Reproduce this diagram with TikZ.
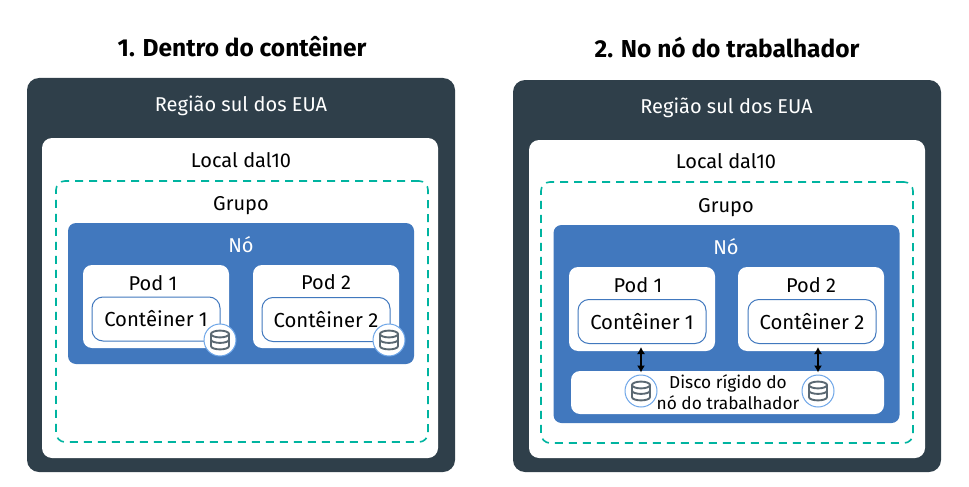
\documentclass[tikz,border=0pt]{standalone}
\usepackage{fontspec}
\setmainfont{Fira Sans}
\usetikzlibrary{arrows.meta}
\definecolor{regionfill}{HTML}{2F3F4A}
\definecolor{nodefill}{HTML}{4178BE}
\definecolor{groupline}{HTML}{00B4A0}
\definecolor{diskline}{HTML}{6EA6E8}
\definecolor{iconline}{HTML}{5A6872}
\tikzset{
  region/.style={fill=regionfill, rounded corners=12, minimum width=428, minimum height=#1},
  zone/.style={fill=white, rounded corners=10, minimum width=396, minimum height=#1},
  group/.style={draw=groupline, line width=1.6, dash pattern=on 8pt off 6pt, rounded corners=9, minimum width=372, minimum height=261},
  worker/.style={fill=nodefill, rounded corners=8, minimum width=346, minimum height=#1},
  pod/.style={fill=white, rounded corners=9, minimum width=146, minimum height=83},
  box/.style={draw=nodefill, line width=1, fill=white, rounded corners=11, minimum width=128, minimum height=44, font=\fontsize{20.3}{24}\selectfont},
  hdd/.style={fill=white, rounded corners=9, minimum width=313, minimum height=43},
  disk/.style={circle, draw=diskline, line width=1, fill=white, minimum size=32, inner sep=0},
  txt/.style={font=\fontsize{20}{24}\selectfont, inner sep=0},
  heading/.style={font=\fontsize{24.5}{28}\selectfont\bfseries},
  link/.style={{Latex[length=7,width=8]}-{Latex[length=7,width=8]}, line width=1.1}
}
\newcommand{\stackicon}[1]{%
  \begin{scope}[shift={(#1.center)}, iconline, line width=1.9]
    \draw (0,-6) ellipse (9 and 3.4);
    \draw (-9,-6) -- (-9,6) .. controls (-9,10.5) and (9,10.5) .. (9,6) -- (9,-6);
    \draw (-9,-0.5) .. controls (-9,4) and (9,4) .. (9,-0.5);
  \end{scope}
}
\begin{document}
\begin{tikzpicture}[x=1pt, y=-1pt]
  \useasboundingbox (0,0) rectangle (969,487);
  % left
  \node[heading] (title1) at (242,47) {1. Dentro do contêiner};
  \node[region=394] (reg1) at (241,275) {};
  \node[txt, white] (regt1) at (241,106) {Região sul dos EUA};
  \node[zone=320] (zone1) at (240,298) {};
  \node[txt] (zonet1) at (241,160) {Local dal10};
  \node[group] (grp1) at (242,311.5) {};
  \node[txt] (grpt1) at (241,206) {Grupo};
  \node[worker=141] (wrk1) at (241,293.5) {};
  \node[txt, white] (wrkt1) at (241,245) {Nó};
  \node[pod] (pod1) at (156,306.5) {};
  \node[txt] (podt1) at (153,283) {Pod 1};
  \node[box] (cont1) at (156,319) {Contêiner 1};
  \node[pod] (pod2) at (326,306.5) {};
  \node[txt] (podt2) at (326,282) {Pod 2};
  \node[box] (cont2) at (326,319.5) {Contêiner 2};
  \node[disk] (disk1) at (220,340) {};
  \node[disk] (disk2) at (389,340) {};
  % right
  \node[heading] (title2) at (727,47) {2. No nó do trabalhador};
  \node[region=392] (reg2) at (727,276) {};
  \node[txt, white] (regt2) at (726.5,108) {Região sul dos EUA};
  \node[zone=318] (zone2) at (727,299) {};
  \node[txt] (zonet2) at (726,161) {Local dal10};
  \node[group] (grp2) at (727,312.5) {};
  \node[txt] (grpt2) at (726,208) {Grupo};
  \node[worker=198] (wrk2) at (726.5,324) {};
  \node[txt, white] (wrkt2) at (726,247) {Nó};
  \node[pod, minimum height=84] (pod3) at (642,309) {};
  \node[txt] (podt3) at (638,285) {Pod 1};
  \node[box] (cont3) at (642,321.5) {Contêiner 1};
  \node[pod, minimum height=84] (pod4) at (811,309) {};
  \node[txt] (podt4) at (811,285) {Pod 2};
  \node[box] (cont4) at (812,321.5) {Contêiner 2};
  \node[hdd] (hdd) at (727.5,392.5) {};
  \node[txt, align=center, font=\fontsize{17.3}{20.5}\selectfont] (hddt) at (728,392) {Disco rígido do\\nó do trabalhador};
  \node[disk] (disk3) at (641,391) {};
  \node[disk] (disk4) at (818,391) {};
  \draw[link, shorten <=3, shorten >=2] (cont3.south -| disk3) -- (disk3.north);
  \draw[link, shorten <=3, shorten >=2] (cont4.south -| disk4) -- (disk4.north);
  \stackicon{disk1}\stackicon{disk2}\stackicon{disk3}\stackicon{disk4}
\end{tikzpicture}
\end{document}
